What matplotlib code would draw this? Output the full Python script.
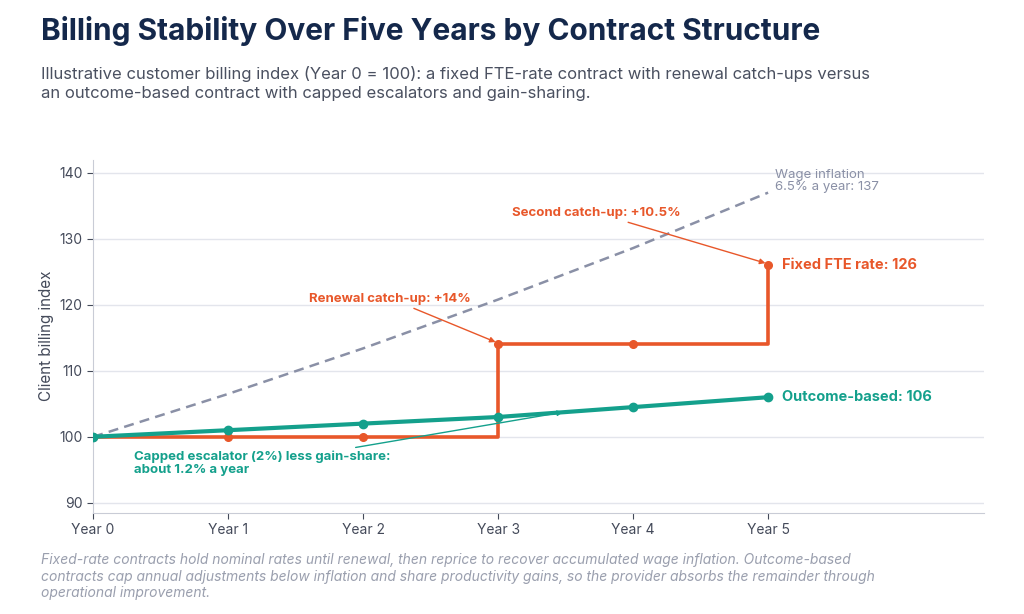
import matplotlib.pyplot as plt

plt.rcParams['font.family'] = ['Inter', 'DejaVu Sans']

years = ["Year 0", "Year 1", "Year 2", "Year 3", "Year 4", "Year 5"]
fixed_fte = [100, 100, 100, 114, 114, 126]
outcome = [100, 101, 102, 103, 104.5, 106]
wage = [100, 106.5, 113.4, 120.8, 128.6, 137]

ORANGE = "#e8572a"
TEAL = "#14a08c"
GREY = "#8a90a6"
NAVY = "#14284b"

fig = plt.figure(figsize=(10.24, 6.14), dpi=100)
ax = fig.add_axes([0.091, 0.165, 0.87, 0.575])
x = list(range(len(years)))

ax.plot(x, wage, color=GREY, lw=1.8, ls=(0, (4, 2.5)), zorder=2)
ax.step(x, fixed_fte, where="post", color=ORANGE, lw=2.6, zorder=3)
ax.plot(x, fixed_fte, "o", color=ORANGE, ms=5.5, zorder=4)
ax.plot(x, outcome, color=TEAL, lw=3, marker="o", ms=6, zorder=5)

ax.set_xlim(0, 6.6)
ax.set_ylim(88.5, 142)
ax.set_xticks(x, years)
ax.set_yticks(range(90, 141, 10))
ax.set_ylabel("Client billing index", color="#444a5a", fontsize=11)
ax.grid(axis="y", color="#e3e5ec", lw=1)
ax.set_axisbelow(True)
for s in ["top", "right"]:
    ax.spines[s].set_visible(False)
for s in ["left", "bottom"]:
    ax.spines[s].set_color("#c9ccd6")
ax.tick_params(colors="#444a5a", labelsize=10, length=4)

ax.text(5.1, 126, "Fixed FTE rate: 126", color=ORANGE, fontsize=10.5, fontweight="bold", va="center")
ax.text(5.1, 106, "Outcome-based: 106", color=TEAL, fontsize=10.5, fontweight="bold", va="center")
ax.text(5.05, 138.8, "Wage inflation\n6.5% a year: 137", color=GREY, fontsize=9.5, va="center", linespacing=1.0)

ax.annotate("Second catch-up: +10.5%", xy=(5, 126.2), xytext=(3.1, 133.5),
            color=ORANGE, fontsize=9.5, fontweight="bold",
            arrowprops=dict(arrowstyle="-|>", color=ORANGE, lw=1, mutation_scale=8))
ax.annotate("Renewal catch-up: +14%", xy=(3, 114.2), xytext=(1.6, 120.5),
            color=ORANGE, fontsize=9.5, fontweight="bold",
            arrowprops=dict(arrowstyle="-|>", color=ORANGE, lw=1, mutation_scale=8))
ax.annotate("Capped escalator (2%) less gain-share:\nabout 1.2% a year", xy=(3.5, 103.8), xytext=(0.3, 94.5),
            color=TEAL, fontsize=9.5, fontweight="bold", linespacing=1.1,
            arrowprops=dict(arrowstyle="-|>", color=TEAL, lw=1, mutation_scale=8))

fig.text(0.04, 0.935, "Billing Stability Over Five Years by Contract Structure",
         fontsize=21.5, fontweight="bold", color=NAVY)
fig.text(0.04, 0.84, "Illustrative customer billing index (Year 0 = 100): a fixed FTE-rate contract with renewal catch-ups versus\n"
         "an outcome-based contract with capped escalators and gain-sharing.",
         fontsize=12, color="#4a5060", linespacing=1.35)
fig.text(0.04, 0.028, "Fixed-rate contracts hold nominal rates until renewal, then reprice to recover accumulated wage inflation. Outcome-based\n"
         "contracts cap annual adjustments below inflation and share productivity gains, so the provider absorbs the remainder through\n"
         "operational improvement.", fontsize=10, color="#9a9fae", style="italic", linespacing=1.2)

fig.savefig("out.png", dpi=100)
